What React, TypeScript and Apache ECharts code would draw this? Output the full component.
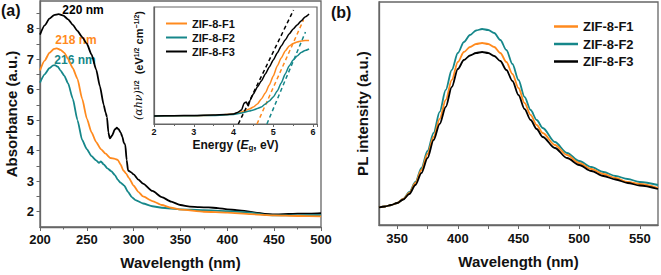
import React, { useEffect, useRef } from "react";
import * as echarts from "echarts";

// ---------- Data ----------
const seriesNames = ["ZIF-8-F1", "ZIF-8-F2", "ZIF-8-F3"];
const colors = ["#FF8A1E", "#16878A", "#000000"];

// Panel (a) absorbance
const absWlF1 = [200, 205, 210, 215, 218, 222, 226, 230, 235, 240, 245, 250, 255, 260, 265, 270, 275, 280, 283, 286, 289, 292, 295, 300, 305, 310, 320, 330, 340, 350, 375, 400, 425, 450, 475, 500];
const absF1 = [6.63, 6.95, 7.2, 7.33, 7.35, 7.3, 7.2, 7.0, 6.7, 6.35, 5.7, 5.05, 4.6, 4.28, 4.05, 3.9, 3.76, 3.73, 3.7, 3.55, 3.35, 3.25, 3.1, 2.85, 2.65, 2.5, 2.35, 2.22, 2.13, 2.07, 2.0, 1.97, 1.92, 1.88, 1.86, 1.85];

const absWlF2 = [200, 205, 210, 214, 216, 219, 222, 226, 230, 235, 240, 245, 250, 255, 260, 263, 265, 268, 272, 276, 280, 283, 286, 290, 294, 298, 302, 310, 320, 330, 350, 375, 400, 425, 440, 450, 475, 500];
const absF2 = [6.23, 6.5, 6.7, 6.79, 6.8, 6.75, 6.62, 6.45, 6.2, 5.7, 5.0, 4.35, 4.05, 3.82, 3.68, 3.6, 3.65, 3.55, 3.42, 3.33, 3.2, 3.05, 2.95, 2.85, 2.65, 2.48, 2.38, 2.27, 2.18, 2.13, 2.08, 2.05, 2.02, 1.97, 1.9, 1.88, 1.88, 1.89];

const absWlF3 = [200, 205, 210, 215, 220, 225, 230, 235, 240, 245, 250, 255, 260, 264, 268, 270, 271.5, 273, 274.5, 277, 280, 282, 284, 286, 288, 289.5, 291, 292.5, 294, 297, 300, 305, 310, 320, 330, 340, 350, 360, 370, 380, 390, 400, 410, 420, 430, 440, 450, 460, 470, 480, 490, 500];
const absF3 = [7.8, 8.1, 8.32, 8.44, 8.47, 8.42, 8.3, 8.12, 7.92, 7.72, 7.5, 7.15, 6.65, 6.1, 5.5, 5.25, 5.1, 4.6, 4.4, 4.5, 4.7, 4.75, 4.7, 4.6, 4.45, 4.25, 4.2, 3.7, 3.35, 3.3, 3.22, 3.05, 2.92, 2.68, 2.48, 2.33, 2.22, 2.17, 2.15, 2.14, 2.12, 2.08, 2.05, 2.02, 1.97, 1.93, 1.91, 1.92, 1.93, 1.94, 1.94, 1.95];

const absPeakLabels = ["218 nm", "216 nm", "220 nm"];

// Inset Tauc plot
const tEF1 = [2, 3, 3.5, 4, 4.2, 4.4, 4.5, 4.6, 4.7, 4.8, 4.9, 5.0, 5.1, 5.2, 5.3, 5.4, 5.5, 5.6, 5.7, 5.8, 5.9];
const tF1 = [8, 8.3, 8.7, 10, 12, 15, 17, 20, 25, 31, 39, 48, 58, 66, 73, 78, 80.5, 82, 83, 83.5, 83.5];
const tEF2 = [2, 3, 3.5, 4, 4.2, 4.4, 4.5, 4.6, 4.7, 4.8, 4.9, 5.0, 5.1, 5.2, 5.3, 5.4, 5.5, 5.6, 5.7, 5.8, 5.9];
const tF2 = [8, 8.3, 8.6, 9.5, 11, 13, 14, 15.5, 17, 20, 23, 27, 33, 41, 50, 58, 64, 68, 71.5, 73.5, 75];
const tEF3 = [2, 2.5, 3, 3.5, 3.8, 4.0, 4.1, 4.2, 4.27, 4.32, 4.37, 4.42, 4.5, 4.6, 4.7, 4.8, 4.9, 5.0, 5.1, 5.2, 5.3, 5.4, 5.5, 5.6, 5.7, 5.8, 5.9];
const tF3 = [8, 8.3, 8.6, 9, 9.5, 10, 11.5, 14, 21, 22, 18, 24, 30, 37, 43, 50, 57, 64, 71, 78, 84, 90, 95, 99, 103, 107, 110];
// Tangent (dashed) lines: [E start, y start, E end, y end]
const tanF1 = [4.59, 0, 5.76, 104];
const tanF2 = [4.84, 0, 5.81, 92];
const tanF3 = [4.12, 0, 5.51, 114];

// Panel (b) PL
const plWl = [335, 340, 345, 350, 355, 360, 365, 370, 375, 380, 385, 390, 395, 400, 405, 410, 415, 420, 425, 430, 435, 440, 445, 450, 455, 460, 465, 470, 480, 490, 500, 510, 520, 530, 540, 550, 565];
const plF1 = [17.7, 18.5, 20, 22, 26, 32, 42, 55, 71, 88, 106, 125, 145, 163, 173, 178, 181, 182, 181, 178, 172, 163, 151, 137, 122, 110, 100, 92, 80, 70, 62, 56, 51, 47, 43, 41, 37];
const plF2 = [17.7, 18.5, 20, 22, 26, 33, 43, 57, 74, 92, 113, 135, 155, 172, 183, 190, 194.5, 196, 195, 192, 185, 175, 161, 145, 128, 115, 105, 97, 83, 72, 64, 58, 53, 49, 46, 43, 40];
const plF3 = [17.7, 18.5, 20, 22, 25.5, 31, 40, 52, 67, 85, 101, 118, 138, 156, 165, 169.5, 172, 173, 172, 169, 164, 155, 144, 130, 116, 105, 96, 88, 77, 67, 60, 54, 49, 45.5, 42, 39.5, 36];

const absTicksX = [200, 250, 300, 350, 400, 450, 500];
const absTicksY = [2, 3, 4, 5, 6, 7, 8];
const plTicksX = [350, 400, 450, 500, 550];

// ---------- helpers ----------
const zip = (xs: number[], ys: number[]) => xs.map((x, i) => [x, ys[i]]);
const FONT = "'Liberation Sans', Arial, sans-serif";
const AXIS_COLOR = "#666";

export default function App() {
  const ref = useRef<HTMLDivElement>(null);
  useEffect(() => {
    if (!ref.current) return;
    const chart = echarts.init(ref.current, undefined, { renderer: "svg" });

    const absX = [absWlF1, absWlF2, absWlF3];
    const absY = [absF1, absF2, absF3];
    const tX = [tEF1, tEF2, tEF3];
    const tY = [tF1, tF2, tF3];
    const tans = [tanF1, tanF2, tanF3];
    const plY = [plF1, plF2, plF3];

    const series: any[] = [];
    seriesNames.forEach((n, i) => {
      series.push({
        name: n, type: "line", xAxisIndex: 0, yAxisIndex: 0, showSymbol: false, symbol: "none",
        smooth: 0.2, smoothMonotone: "x", data: zip(absX[i], absY[i]),
        lineStyle: { color: colors[i], width: 1.8 }, itemStyle: { color: colors[i] }, z: 3 - i,
      });
    });
    seriesNames.forEach((n, i) => {
      series.push({
        name: n, type: "line", xAxisIndex: 1, yAxisIndex: 1, showSymbol: false, symbol: "none",
        smooth: 0.2, smoothMonotone: "x", data: zip(tX[i], tY[i]), z: 8,
        lineStyle: { color: colors[i], width: 1.5 }, itemStyle: { color: colors[i] },
      });
      series.push({
        name: "tan-" + n, type: "line", xAxisIndex: 1, yAxisIndex: 1, showSymbol: false, symbol: "none",
        data: [[tans[i][0], tans[i][1]], [tans[i][2], tans[i][3]]], z: 8,
        lineStyle: { color: colors[i], width: 1.5, type: [4, 3] }, itemStyle: { color: colors[i] },
      });
    });
    [1, 0, 2].forEach((i) => {
      series.push({
        name: seriesNames[i], type: "line", xAxisIndex: 2, yAxisIndex: 2, showSymbol: false, symbol: "none",
        smooth: 0.3, smoothMonotone: "x", data: zip(plWl, plY[i]),
        lineStyle: { color: colors[i], width: 1.8 }, itemStyle: { color: colors[i] },
      });
    });

    const tickLabel = { fontFamily: FONT, fontWeight: "bold", fontSize: 13, color: "#111" };
    const axisLine = { show: true, lineStyle: { color: AXIS_COLOR, width: 1.3 } };

    chart.setOption({
      animation: false,
      textStyle: { fontFamily: FONT },
      grid: [
        { left: 40, top: 1, width: 281, height: 226, show: true, borderColor: AXIS_COLOR, borderWidth: 1.3 },
        { left: 154, top: 7, width: 163, height: 117, show: true, borderColor: AXIS_COLOR, borderWidth: 1.2, backgroundColor: "#fff", z: 5 },
        { left: 379, top: 2, width: 279, height: 223, show: true, borderColor: AXIS_COLOR, borderWidth: 1.3 },
      ],
      xAxis: [
        {
          gridIndex: 0, type: "value", min: 200, max: 500, interval: 50,
          axisLine, axisTick: { show: true, length: 4, lineStyle: { color: AXIS_COLOR } },
          minorTick: { show: true, splitNumber: 2, length: 2.5, lineStyle: { color: AXIS_COLOR } },
          axisLabel: { ...tickLabel, margin: 6, customValues: absTicksX },
          splitLine: { show: false },
          name: "Wavelength (nm)", nameLocation: "middle", nameGap: 28,
          nameTextStyle: { fontFamily: FONT, fontWeight: "bold", fontSize: 15, color: "#111" },
        },
        {
          gridIndex: 1, type: "value", min: 2, max: 6.1, interval: 1,
          axisLine: { show: true, lineStyle: { color: AXIS_COLOR, width: 1.2 } },
          axisTick: { show: true, length: 3, lineStyle: { color: AXIS_COLOR } },
          minorTick: { show: true, splitNumber: 2, length: 2, lineStyle: { color: AXIS_COLOR } },
          axisLabel: { fontFamily: FONT, fontWeight: "bold", fontSize: 9, color: "#111", margin: 3,
            formatter: (v: number) => (Number.isInteger(v) ? String(v) : "") },
          splitLine: { show: false },
          name: "{b|Energy (}{i|E}{s|g}{b|, eV)}", nameLocation: "middle", nameGap: 15,
          nameTextStyle: {
            rich: {
              b: { fontFamily: FONT, fontWeight: "bold", fontSize: 12, color: "#111" },
              i: { fontFamily: FONT, fontWeight: "bold", fontStyle: "italic", fontSize: 12, color: "#111" },
              s: { fontFamily: FONT, fontWeight: "bold", fontSize: 8, color: "#111", verticalAlign: "bottom", padding: [4, 0, 0, 0] },
            },
          },
          z: 6,
        },
        {
          gridIndex: 2, type: "value", min: 335, max: 565,
          axisLine, axisTick: { show: true, length: 4, customValues: [350, 375, 400, 425, 450, 475, 500, 525, 550], lineStyle: { color: AXIS_COLOR } },
          axisLabel: { ...tickLabel, margin: 7, customValues: plTicksX },
          splitLine: { show: false },
          name: "Wavelength (nm)", nameLocation: "middle", nameGap: 29,
          nameTextStyle: { fontFamily: FONT, fontWeight: "bold", fontSize: 15, color: "#111" },
        },
      ],
      yAxis: [
        {
          gridIndex: 0, type: "value", min: 1.5, max: 8.9,
          axisLine, axisTick: { show: true, length: 3.5, customValues: [2, 2.5, 3, 3.5, 4, 4.5, 5, 5.5, 6, 6.5, 7, 7.5, 8, 8.5], lineStyle: { color: AXIS_COLOR } },
          axisLabel: { ...tickLabel, margin: 6, customValues: absTicksY },
          splitLine: { show: false },
          name: "Absorbance (a.u.)", nameLocation: "middle", nameGap: 21,
          nameTextStyle: { fontFamily: FONT, fontWeight: "bold", fontSize: 15, color: "#111" },
        },
        {
          gridIndex: 1, type: "value", min: 0, max: 117,
          axisLine: { show: true, lineStyle: { color: AXIS_COLOR, width: 1.2 } },
          axisTick: { show: false }, axisLabel: { show: false }, splitLine: { show: false },
          name: "{i|(αhν)}{s|1/2}{b|  (eV}{s|1/2}{b| cm}{s|−1/2}{b|)}", nameLocation: "middle", nameGap: 10,
          nameTextStyle: {
            rich: {
              b: { fontFamily: FONT, fontWeight: "bold", fontSize: 11, color: "#111" },
              i: { fontFamily: "'DejaVu Serif', serif", fontStyle: "italic", fontSize: 11, color: "#111" },
              s: { fontFamily: FONT, fontWeight: "bold", fontSize: 7, color: "#111", verticalAlign: "top", padding: [0, 0, 4, 0] },
            },
          },
          z: 6,
        },
        {
          gridIndex: 2, type: "value", min: 0, max: 223,
          axisLine, axisTick: { show: false }, axisLabel: { show: false }, splitLine: { show: false },
          name: "PL intensity (a.u.)", nameLocation: "middle", nameGap: 9,
          nameTextStyle: { fontFamily: FONT, fontWeight: "bold", fontSize: 15, color: "#111" },
        },
      ],
      legend: [
        {
          data: seriesNames, orient: "vertical", left: 166, top: 17, itemWidth: 21, itemHeight: 2,
          icon: "rect", itemGap: 1, selectedMode: false, padding: 0, z: 9,
          textStyle: { fontFamily: FONT, fontWeight: "bold", fontSize: 11, color: "#111", lineHeight: 13 },
        },
        {
          data: seriesNames, orient: "vertical", left: 554, top: 19, itemWidth: 24, itemHeight: 2.5,
          icon: "rect", itemGap: 2.5, selectedMode: false, padding: 0,
          textStyle: { fontFamily: FONT, fontWeight: "bold", fontSize: 13, color: "#111", lineHeight: 15 },
        },
      ],
      graphic: [
        { type: "text", left: 1, top: 2, style: { text: "(a)", font: `bold 16px ${FONT}`, fill: "#111" } },
        { type: "text", left: 331, top: 4, style: { text: "(b)", font: `bold 16px ${FONT}`, fill: "#111" } },
        { type: "text", x: 83, y: 10, style: { text: absPeakLabels[2], font: `bold 12px ${FONT}`, fill: colors[2], align: "center", verticalAlign: "middle" } },
        { type: "text", x: 76, y: 40, style: { text: absPeakLabels[0], font: `bold 12px ${FONT}`, fill: colors[0], align: "center", verticalAlign: "middle" } },
        { type: "text", x: 75, y: 60, style: { text: absPeakLabels[1], font: `bold 12px ${FONT}`, fill: colors[1], align: "center", verticalAlign: "middle" } },
      ],
      series,
    });
    return () => chart.dispose();
  }, []);
  return <div ref={ref} style={{ position: "fixed", left: 0, top: 0, width: 661, height: 275, background: "#fff" }} />;
}
